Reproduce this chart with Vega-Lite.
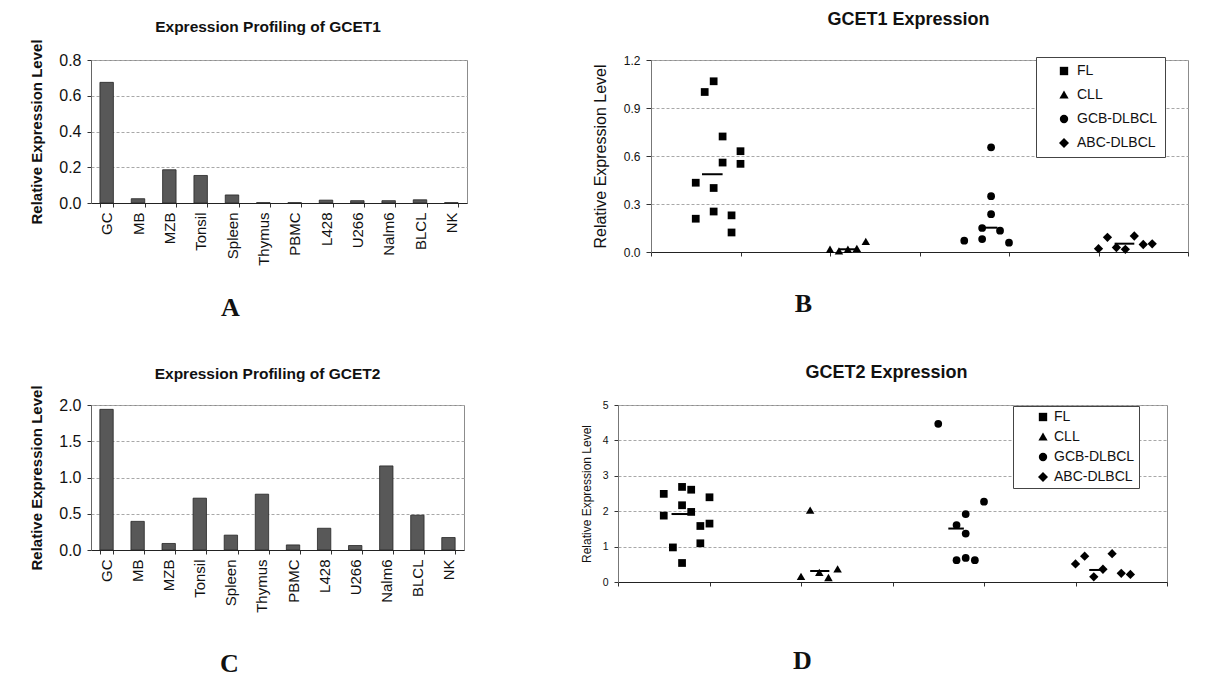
{
  "$schema": "https://vega.github.io/schema/vega-lite/v6.json",
  "background": "white",
  "padding": {"left": 29, "top": 10, "right": 0, "bottom": 0},
  "config": {
    "font": "Liberation Sans",
    "view": {"stroke": "#8c8c8c", "strokeWidth": 1},
    "axis": {"labelFont": "Liberation Sans", "titleFont": "Liberation Sans", "labelColor": "#111", "titleColor": "#111", "tickColor": "#333", "domainColor": "#333", "gridColor": "#a8a8a8", "gridDash": [3, 2]},
    "title": {"font": "Liberation Sans", "fontWeight": "bold", "color": "#111"}
  },
  "datasets": {
    "gcet1": [
      {"sample": "GC", "value": 0.675}, {"sample": "MB", "value": 0.024}, {"sample": "MZB", "value": 0.186},
      {"sample": "Tonsil", "value": 0.154}, {"sample": "Spleen", "value": 0.045}, {"sample": "Thymus", "value": 0.002},
      {"sample": "PBMC", "value": 0.002}, {"sample": "L428", "value": 0.016}, {"sample": "U266", "value": 0.013},
      {"sample": "Nalm6", "value": 0.013}, {"sample": "BLCL", "value": 0.018}, {"sample": "NK", "value": 0.002}
    ],
    "gcet2": [
      {"sample": "GC", "value": 1.94}, {"sample": "MB", "value": 0.395}, {"sample": "MZB", "value": 0.09},
      {"sample": "Tonsil", "value": 0.715}, {"sample": "Spleen", "value": 0.205}, {"sample": "Thymus", "value": 0.77},
      {"sample": "PBMC", "value": 0.07}, {"sample": "L428", "value": 0.30}, {"sample": "U266", "value": 0.062},
      {"sample": "Nalm6", "value": 1.16}, {"sample": "BLCL", "value": 0.48}, {"sample": "NK", "value": 0.172}
    ],
    "bpts": [
      {"group": "FL", "x": 0.5, "y": 0.433}, {"group": "FL", "x": 0.5, "y": 0.208}, {"group": "FL", "x": 0.6, "y": 1.0},
      {"group": "FL", "x": 0.7, "y": 1.067}, {"group": "FL", "x": 0.7, "y": 0.40}, {"group": "FL", "x": 0.7, "y": 0.253},
      {"group": "FL", "x": 0.8, "y": 0.722}, {"group": "FL", "x": 0.8, "y": 0.559}, {"group": "FL", "x": 0.9, "y": 0.229},
      {"group": "FL", "x": 0.9, "y": 0.122}, {"group": "FL", "x": 1.0, "y": 0.63}, {"group": "FL", "x": 1.0, "y": 0.551},
      {"group": "CLL", "x": 2.0, "y": 0.015}, {"group": "CLL", "x": 2.1, "y": 0.005}, {"group": "CLL", "x": 2.2, "y": 0.015},
      {"group": "CLL", "x": 2.3, "y": 0.02}, {"group": "CLL", "x": 2.4, "y": 0.064},
      {"group": "GCB-DLBCL", "x": 3.5, "y": 0.071}, {"group": "GCB-DLBCL", "x": 3.7, "y": 0.081}, {"group": "GCB-DLBCL", "x": 3.7, "y": 0.15},
      {"group": "GCB-DLBCL", "x": 3.8, "y": 0.654}, {"group": "GCB-DLBCL", "x": 3.8, "y": 0.349}, {"group": "GCB-DLBCL", "x": 3.8, "y": 0.236},
      {"group": "GCB-DLBCL", "x": 3.9, "y": 0.133}, {"group": "GCB-DLBCL", "x": 4.0, "y": 0.058},
      {"group": "ABC-DLBCL", "x": 5.0, "y": 0.021}, {"group": "ABC-DLBCL", "x": 5.1, "y": 0.092}, {"group": "ABC-DLBCL", "x": 5.2, "y": 0.028},
      {"group": "ABC-DLBCL", "x": 5.3, "y": 0.017}, {"group": "ABC-DLBCL", "x": 5.4, "y": 0.10}, {"group": "ABC-DLBCL", "x": 5.5, "y": 0.047},
      {"group": "ABC-DLBCL", "x": 5.6, "y": 0.051}
    ],
    "bmed": [
      {"group": "FL", "x": 0.57, "xe": 0.80, "y": 0.486},
      {"group": "CLL", "x": 2.1, "xe": 2.3, "y": 0.017},
      {"group": "GCB-DLBCL", "x": 3.67, "xe": 3.87, "y": 0.152},
      {"group": "ABC-DLBCL", "x": 5.18, "xe": 5.40, "y": 0.052}
    ],
    "dpts": [
      {"group": "FL", "x": 0.5, "y": 2.49}, {"group": "FL", "x": 0.5, "y": 1.875}, {"group": "FL", "x": 0.6, "y": 0.977},
      {"group": "FL", "x": 0.7, "y": 2.686}, {"group": "FL", "x": 0.7, "y": 2.168}, {"group": "FL", "x": 0.7, "y": 0.537},
      {"group": "FL", "x": 0.8, "y": 2.607}, {"group": "FL", "x": 0.8, "y": 1.98}, {"group": "FL", "x": 0.9, "y": 1.582},
      {"group": "FL", "x": 0.9, "y": 1.094}, {"group": "FL", "x": 1.0, "y": 2.393}, {"group": "FL", "x": 1.0, "y": 1.65},
      {"group": "CLL", "x": 2.0, "y": 0.146}, {"group": "CLL", "x": 2.1, "y": 2.02}, {"group": "CLL", "x": 2.2, "y": 0.26},
      {"group": "CLL", "x": 2.3, "y": 0.117}, {"group": "CLL", "x": 2.4, "y": 0.36},
      {"group": "GCB-DLBCL", "x": 3.5, "y": 4.47}, {"group": "GCB-DLBCL", "x": 3.7, "y": 1.61}, {"group": "GCB-DLBCL", "x": 3.7, "y": 0.615},
      {"group": "GCB-DLBCL", "x": 3.8, "y": 1.92}, {"group": "GCB-DLBCL", "x": 3.8, "y": 1.37}, {"group": "GCB-DLBCL", "x": 3.8, "y": 0.68},
      {"group": "GCB-DLBCL", "x": 3.9, "y": 0.615}, {"group": "GCB-DLBCL", "x": 4.0, "y": 2.27},
      {"group": "ABC-DLBCL", "x": 5.0, "y": 0.51}, {"group": "ABC-DLBCL", "x": 5.1, "y": 0.73}, {"group": "ABC-DLBCL", "x": 5.2, "y": 0.146},
      {"group": "ABC-DLBCL", "x": 5.3, "y": 0.36}, {"group": "ABC-DLBCL", "x": 5.4, "y": 0.80}, {"group": "ABC-DLBCL", "x": 5.5, "y": 0.244},
      {"group": "ABC-DLBCL", "x": 5.6, "y": 0.215}
    ],
    "dmed": [
      {"group": "FL", "x": 0.585, "xe": 0.774, "y": 1.92},
      {"group": "CLL", "x": 2.10, "xe": 2.31, "y": 0.31},
      {"group": "GCB-DLBCL", "x": 3.61, "xe": 3.78, "y": 1.51},
      {"group": "ABC-DLBCL", "x": 5.15, "xe": 5.30, "y": 0.34}
    ]
  },
  "resolve": {"scale": {"shape": "independent"}, "legend": {"shape": "independent"}},
  "spacing": 42,
  "vconcat": [
    {
      "spacing": 123,
      "resolve": {"scale": {"shape": "independent"}, "legend": {"shape": "independent"}},
      "hconcat": [
        {
          "width": 376, "height": 143,
          "data": {"name": "gcet1"},
          "title": {"text": "Expression Profiling of GCET1", "fontSize": 15.5, "offset": 3, "dx": -11},
          "mark": {"type": "bar", "fill": "#585858", "stroke": "#262626", "strokeWidth": 0.8},
          "encoding": {
            "x": {"field": "sample", "type": "nominal", "sort": null,
              "scale": {"paddingInner": 0.57, "paddingOuter": 0.285},
              "axis": {"labelAngle": 270, "labelFontSize": 15, "labelPadding": 5, "tickSize": 4, "tickBand": "extent", "domainColor": "#222",
                "title": "A", "titleFont": "Liberation Serif", "titleFontSize": 26, "titleFontWeight": "bold", "titleX": 139, "titleY": 104, "titleBaseline": "middle", "titleAlign": "center"}},
            "y": {"field": "value", "type": "quantitative", "scale": {"domain": [0, 0.8], "nice": false},
              "axis": {"values": [0, 0.2, 0.4, 0.6, 0.8], "format": ".1f", "labelFontSize": 16, "labelPadding": 6, "tickSize": 4, "grid": true, "domainColor": "#666",
                "title": "Relative Expression Level", "titleFontSize": 15, "titleFontWeight": "bold", "titlePadding": 14}}
          }
        },
        {
          "width": 537, "height": 192,
          "title": {"text": "GCET1 Expression", "fontSize": 18, "offset": 25, "dx": -11},
          "encoding": {
            "x": {"field": "x", "type": "quantitative", "scale": {"domain": [0, 6], "nice": false},
              "axis": {"values": [0, 1, 2, 3, 4, 5, 6], "labels": false, "grid": false, "tickSize": 4, "domainColor": "#222",
                "title": "B", "titleFont": "Liberation Serif", "titleFontSize": 26, "titleFontWeight": "bold", "titleX": 152, "titleY": 51, "titleBaseline": "middle", "titleAlign": "center"}},
            "y": {"field": "y", "type": "quantitative", "scale": {"domain": [0, 1.2], "nice": false},
              "axis": {"values": [0, 0.3, 0.6, 0.9, 1.2], "format": ".1f", "labelFontSize": 12, "labelPadding": 6, "tickSize": 5, "grid": true, "domainColor": "#777",
                "title": "Relative Expression Level", "titleFontSize": 16, "titleFontWeight": "normal", "titlePadding": 15}}
          },
          "layer": [
            {
              "data": {"name": "bpts"},
              "mark": {"type": "point", "filled": true, "color": "black", "size": 60, "opacity": 1},
              "encoding": {
                "shape": {"field": "group", "type": "nominal",
                  "scale": {"domain": ["FL", "CLL", "GCB-DLBCL", "ABC-DLBCL"], "range": ["square", "M-1.1,0.85L0,-1.05L1.1,0.85Z", "circle", "M0,-1.2L1.2,0L0,1.2L-1.2,0Z"]},
                  "legend": {"orient": "none", "legendX": 385, "legendY": -3, "title": null, "strokeColor": "#444", "fillColor": "white",
                    "padding": 7, "rowPadding": 10, "labelFontSize": 14, "labelFont": "Liberation Sans", "labelColor": "#111", "symbolSize": 70, "symbolOffset": 14,
                    "labelOffset": 6, "symbolFillColor": "black", "symbolStrokeColor": "black", "symbolStrokeWidth": 0}}
              }
            },
            {
              "data": {"name": "bmed"},
              "mark": {"type": "rule", "color": "black", "strokeWidth": 2},
              "encoding": {"x2": {"field": "xe"}}
            }
          ]
        }
      ]
    },
    {
      "spacing": 114,
      "resolve": {"scale": {"shape": "independent"}, "legend": {"shape": "independent"}},
      "hconcat": [
        {
          "width": 373, "height": 145,
          "data": {"name": "gcet2"},
          "title": {"text": "Expression Profiling of GCET2", "fontSize": 15.5, "offset": 2, "dx": -10},
          "mark": {"type": "bar", "fill": "#585858", "stroke": "#262626", "strokeWidth": 0.8},
          "encoding": {
            "x": {"field": "sample", "type": "nominal", "sort": null,
              "scale": {"paddingInner": 0.57, "paddingOuter": 0.285},
              "axis": {"labelAngle": 270, "labelFontSize": 15, "labelPadding": 5, "tickSize": 4, "tickBand": "extent", "domainColor": "#222",
                "title": "C", "titleFont": "Liberation Serif", "titleFontSize": 26, "titleFontWeight": "bold", "titleX": 138, "titleY": 113, "titleBaseline": "middle", "titleAlign": "center"}},
            "y": {"field": "value", "type": "quantitative", "scale": {"domain": [0, 2], "nice": false},
              "axis": {"values": [0, 0.5, 1, 1.5, 2], "format": ".1f", "labelFontSize": 16, "labelPadding": 6, "tickSize": 4, "grid": true, "domainColor": "#666",
                "title": "Relative Expression Level", "titleFontSize": 15, "titleFontWeight": "bold", "titlePadding": 14}}
          }
        },
        {
          "width": 549, "height": 177,
          "title": {"text": "GCET2 Expression", "fontSize": 18, "offset": 18, "dx": -6},
          "encoding": {
            "x": {"field": "x", "type": "quantitative", "scale": {"domain": [0, 6], "nice": false},
              "axis": {"values": [0, 1, 2, 3, 4, 5, 6], "labels": false, "grid": false, "tickSize": 4, "domainColor": "#222",
                "title": "D", "titleFont": "Liberation Serif", "titleFontSize": 26, "titleFontWeight": "bold", "titleX": 184, "titleY": 78, "titleBaseline": "middle", "titleAlign": "center"}},
            "y": {"field": "y", "type": "quantitative", "scale": {"domain": [0, 5], "nice": false},
              "axis": {"values": [0, 1, 2, 3, 4, 5], "format": "d", "labelFontSize": 10.5, "labelPadding": 6, "tickSize": 4, "grid": true, "domainColor": "#777",
                "title": "Relative Expression Level", "titleFontSize": 12, "titleFontWeight": "normal", "titlePadding": 9}}
          },
          "layer": [
            {
              "data": {"name": "dpts"},
              "mark": {"type": "point", "filled": true, "color": "black", "size": 60, "opacity": 1},
              "encoding": {
                "shape": {"field": "group", "type": "nominal",
                  "scale": {"domain": ["FL", "CLL", "GCB-DLBCL", "ABC-DLBCL"], "range": ["square", "M-1.1,0.85L0,-1.05L1.1,0.85Z", "circle", "M0,-1.2L1.2,0L0,1.2L-1.2,0Z"]},
                  "legend": {"orient": "none", "legendX": 395, "legendY": 1, "title": null, "strokeColor": "#444", "fillColor": "white",
                    "padding": 4, "rowPadding": 6, "labelFontSize": 14, "labelFont": "Liberation Sans", "labelColor": "#111", "symbolSize": 70, "symbolOffset": 19,
                    "labelOffset": 4, "symbolFillColor": "black", "symbolStrokeColor": "black", "symbolStrokeWidth": 0}}
              }
            },
            {
              "data": {"name": "dmed"},
              "mark": {"type": "rule", "color": "black", "strokeWidth": 2},
              "encoding": {"x2": {"field": "xe"}}
            }
          ]
        }
      ]
    }
  ]
}
